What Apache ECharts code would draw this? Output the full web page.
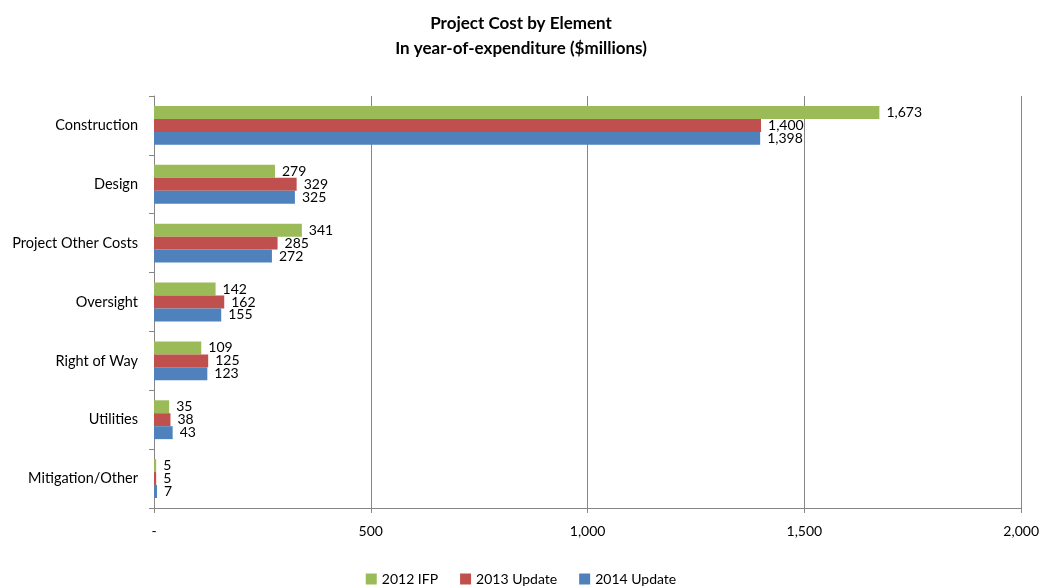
<!DOCTYPE html>
<html>
<head>
<meta charset="utf-8">
<script src="https://cdn.jsdelivr.net/npm/echarts@6/dist/echarts.min.js"></script>
<style>
  html, body { margin: 0; padding: 0; background: #fff; }
  #chart { width: 1042px; height: 588px; }
</style>
</head>
<body>
<div id="chart"></div>
<script>
// categories, top to bottom
const categories = ["Construction", "Design", "Project Other Costs", "Oversight", "Right of Way", "Utilities", "Mitigation/Other"];
const ifp2012 = [1673, 279, 341, 142, 109, 35, 5];
const update2013 = [1400, 329, 285, 162, 125, 38, 5];
const update2014 = [1398, 325, 272, 155, 123, 43, 7];
const xTicks = [0, 500, 1000, 1500, 2000];

const font = "Lato, 'Open Sans', sans-serif";
const fmt = (v) => (v === 0 ? "-" : v.toLocaleString("en-US"));

function barSeries(name, data, color) {
    return {
        name: name,
        type: "bar",
        data: data,
        barGap: "0%",
        barCategoryGap: "34%",
        itemStyle: { color: color },
        label: {
            show: true,
            position: "right",
            distance: 7,
            color: "#000",
            fontSize: 14,
            fontFamily: font,
            formatter: (p) => fmt(p.value),
        },
    };
}

const chart = echarts.init(document.getElementById("chart"));
chart.setOption({
    animation: false,
    title: {
        text: "Project Cost by Element\nIn year-of-expenditure ($millions)",
        left: "center",
        top: 6,
        textStyle: {
            fontFamily: font,
            fontSize: 17,
            fontWeight: "bold",
            color: "#000",
            lineHeight: 25,
        },
    },
    legend: {
        bottom: -3,
        left: "center",
        icon: "rect",
        itemWidth: 11,
        itemHeight: 11,
        itemGap: 22,
        textStyle: { fontFamily: font, fontSize: 14, color: "#000" },
        data: ["2012 IFP", "2013 Update", "2014 Update"],
    },
    grid: { left: 154, right: 20, top: 96, bottom: 80 },
    xAxis: {
        type: "value",
        min: 0,
        max: 2000,
        interval: 500,
        axisLine: { show: true, lineStyle: { color: "#868686" } },
        axisTick: { show: true, length: 5, lineStyle: { color: "#868686" } },
        splitLine: { show: true, lineStyle: { color: "#868686" } },
        axisLabel: {
            color: "#000",
            fontFamily: font,
            fontSize: 14,
            margin: 16,
            formatter: (v) => (xTicks.includes(v) ? fmt(v) : ""),
        },
    },
    yAxis: {
        type: "category",
        inverse: true,
        data: categories,
        axisLine: { show: true, lineStyle: { color: "#868686" } },
        axisTick: { show: true, length: 5, lineStyle: { color: "#868686" } },
        axisLabel: { color: "#000", fontFamily: font, fontSize: 14.5, margin: 16, padding: [4, 0, 0, 0] },
    },
    series: [
        barSeries("2012 IFP", ifp2012, "#9BBB59"),
        barSeries("2013 Update", update2013, "#C0504D"),
        barSeries("2014 Update", update2014, "#4F81BD"),
    ],
});
</script>
</body>
</html>
